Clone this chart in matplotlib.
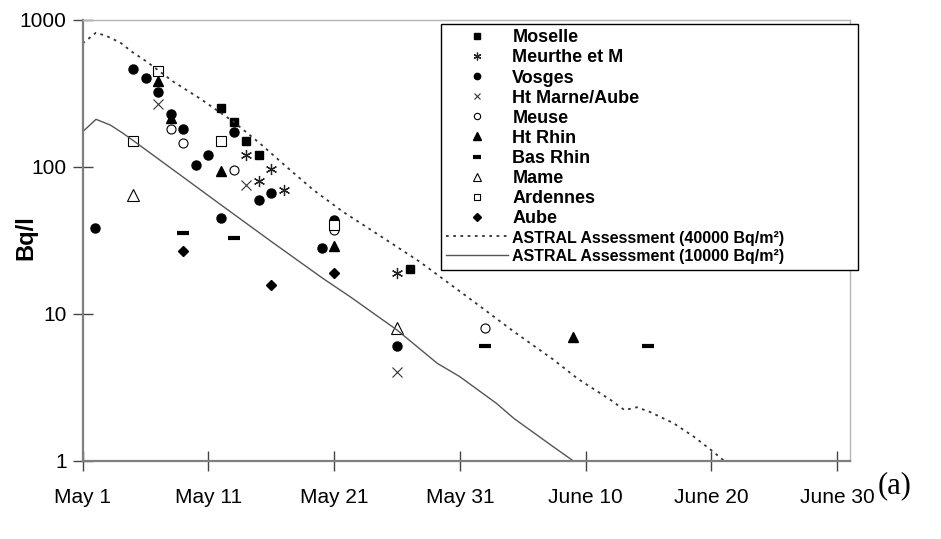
import matplotlib
matplotlib.use("Agg")
import matplotlib.pyplot as plt

plt.rcParams["font.family"] = ["Liberation Sans", "DejaVu Sans"]

# day numbers counted from May 1 (= 1); June d is 31 + d
moselle_day = [12, 13, 14, 15, 27]
moselle_val = [252, 202, 150, 121, 20]

meurthe_day = [14, 15, 16, 17, 26]
meurthe_val = [120, 80, 96, 69, 19]

vosges_day = [2, 5, 6, 7, 8, 9, 10, 11, 12, 13, 15, 16, 20, 21, 26]
vosges_val = [38.5, 460, 403, 324, 228, 180, 103, 121, 44.6, 171, 59.3, 66, 28, 43.4, 6.06]

htmarne_day = [7, 14, 26]
htmarne_val = [267, 75, 4.0]

meuse_day = [8, 9, 13, 21, 33]
meuse_val = [180, 144, 95, 37, 8.0]

htrhin_day = [7, 8, 12, 21, 40]
htrhin_val = [383, 214, 94, 29, 6.9]

basrhin_day = [9, 13, 33, 46]
basrhin_val = [35.6, 32.6, 6.0, 6.0]

mame_day = [5, 26]
mame_val = [64, 8.0]

ardennes_day = [5, 7, 12, 21]
ardennes_val = [150, 450, 150, 40]

aube_day = [9, 16, 21]
aube_val = [26.8, 15.7, 18.8]

# ASTRAL model curves
astral40_day = [1.0, 2.06, 2.9, 4.0, 4.9, 6.1, 8.2, 10.3, 13.0, 15.1, 17.2, 19.35, 21.7,
                24.4, 27.8, 32.1, 35.3, 38.4, 40.4, 43.0, 44.1, 45.1, 46.1, 48.0,
                49.6, 51.0, 52.2]
astral40_val = [690, 816, 774, 698, 606, 518, 379, 292, 202, 144, 100, 69.5, 49.4,
                35, 22.6, 12.1, 7.55, 4.9, 3.6, 2.59, 2.21, 2.31, 2.15, 1.80,
                1.46, 1.18, 0.97]

astral10_day = [1.0, 2.06, 3.2, 4.2, 5.0, 8.0, 12.0, 16.0, 20.1, 22.3, 26.0, 29.2,
                31.0, 33.9, 35.3, 38.4, 40.3]
astral10_val = [173, 210, 192, 169, 151, 98, 55, 31, 17.4, 13.0, 7.75, 4.6,
                3.73, 2.46, 1.94, 1.25, 0.96]

tick_days = [1, 11, 21, 31, 41, 51, 61]
tick_labels = ["May 1", "May 11", "May 21", "May 31", "June 10", "June 20", "June 30"]

fig = plt.figure(figsize=(9.41, 5.39), dpi=100)
ax = fig.add_axes([82.7 / 941, 78.3 / 539, (850 - 82.7) / 941, (460.7 - 19.7) / 539])

mk = dict(linestyle="none", color="black")
ax.plot(moselle_day, moselle_val, marker="s", ms=6, label="Moselle", **mk)
ax.plot(meurthe_day, meurthe_val, marker=(6, 2, 0), ms=8, mew=0.9,
        label="Meurthe et M", linestyle="none", color="#222222")
ax.plot(vosges_day, vosges_val, marker="o", ms=6.5, label="Vosges", **mk)
ax.plot(htmarne_day, htmarne_val, marker="x", ms=7, mew=0.8,
        label="Ht Marne/Aube", linestyle="none", color="#333333")
ax.plot(meuse_day, meuse_val, marker="o", ms=6.5, mfc="white", mew=0.8,
        label="Meuse", **mk)
ax.plot(htrhin_day, htrhin_val, marker="^", ms=7.5, label="Ht Rhin", **mk)
ax.plot(basrhin_day, basrhin_val, marker="_", ms=8, mew=3, label="Bas Rhin", **mk)
ax.plot(mame_day, mame_val, marker="^", ms=8, mfc="white", mew=0.8,
        label="Mame", **mk)
ax.plot(ardennes_day, ardennes_val, marker="s", ms=6.5, mfc="white", mew=0.8,
        label="Ardennes", **mk)
ax.plot(aube_day, aube_val, marker="D", ms=5.5, label="Aube", **mk)

ax.plot(astral40_day, astral40_val, color="#333333", lw=1.3, linestyle=(0, (1.5, 2.5)),
        label="ASTRAL Assessment (40000 Bq/m²)")
ax.plot(astral10_day, astral10_val, color="#555555", lw=1.0,
        label="ASTRAL Assessment (10000 Bq/m²)")

ax.set_yscale("log")
ax.set_ylim(1, 1000)
ax.set_xlim(1, 62.04)
ax.set_yticks([1, 10, 100, 1000])
ax.set_yticklabels(["1", "10", "100", "1000"])
ax.minorticks_off()
ax.set_xticks(tick_days)
ax.set_xticklabels(tick_labels)
ax.tick_params(axis="both", direction="inout", length=15, width=1.0, color="#444444",
               labelsize=15)
ax.tick_params(axis="y", pad=4)
ax.tick_params(axis="x", pad=12)

for side in ("left", "bottom"):
    ax.spines[side].set_color("#7f7f7f")
    ax.spines[side].set_linewidth(1.6)
for side in ("top", "right"):
    ax.spines[side].set_color("#b5b5b5")
    ax.spines[side].set_linewidth(1.0)

fig.text(26 / 941, 1 - 238 / 539, "Bq/l", rotation=90, ha="center", va="center",
         fontsize=17, weight="bold")

leg = ax.legend(loc="upper left", mode="expand",
                bbox_to_anchor=(441 / 941, (539 - 267) / 539, 417 / 941, 243 / 539),
                bbox_transform=fig.transFigure, borderaxespad=0,
                prop={"weight": "bold", "size": 13}, numpoints=1, markerscale=0.7,
                handlelength=3.4, handletextpad=0.25, labelspacing=0.17,
                borderpad=0.3, fancybox=False, framealpha=1, edgecolor="black")
leg.get_frame().set_linewidth(1.0)
for t in leg.get_texts()[-2:]:
    t.set_fontsize(11.5)

fig.text(895 / 941, 1 - 486 / 539, "(a)", ha="center", va="center", fontsize=22,
         family="Liberation Serif")

fig.savefig("out.png", dpi=100, facecolor="white")
